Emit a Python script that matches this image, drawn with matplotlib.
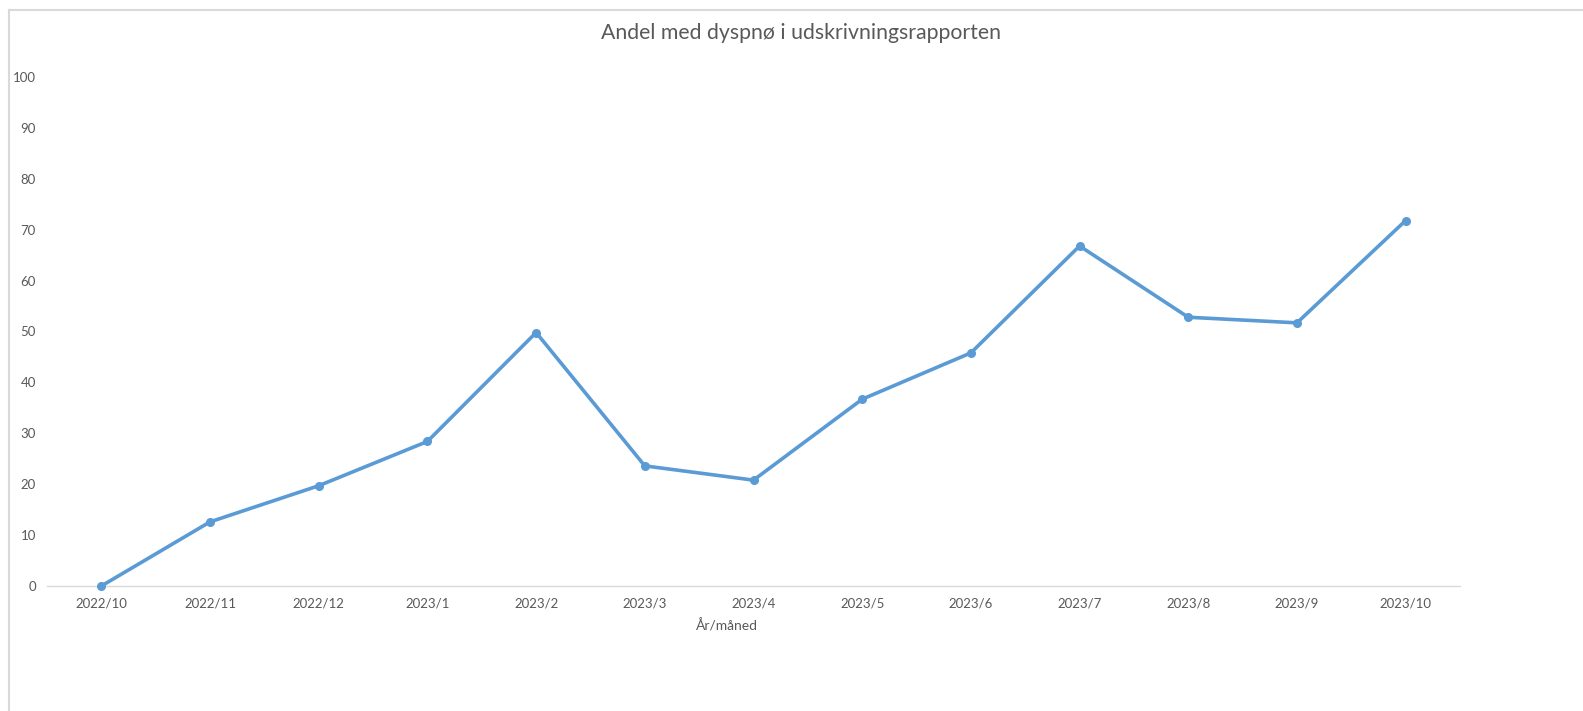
import matplotlib
matplotlib.use("Agg")
import matplotlib.pyplot as plt
from matplotlib.lines import Line2D

categories = ["2022/10", "2022/11", "2022/12", "2023/1", "2023/2", "2023/3", "2023/4",
              "2023/5", "2023/6", "2023/7", "2023/8", "2023/9", "2023/10"]
values = [0, 12.6, 19.7, 28.4, 49.8, 23.6, 20.8, 36.7, 45.8, 66.8, 52.8, 51.7, 71.8]
yticks = [0, 10, 20, 30, 40, 50, 60, 70, 80, 90, 100]

W, H = 1583, 711
plt.rcParams['font.family'] = ['Lato', 'DejaVu Sans']
fig = plt.figure(figsize=(W / 100, H / 100), dpi=100)

left, right = 47 / W, 1460 / W
bottom, top = 1 - 586 / H, 1 - 77 / H
ax = fig.add_axes([left, bottom, right - left, top - bottom])

x = list(range(len(categories)))
ax.plot(x, values, color="#5B9BD5", linewidth=2.6, marker="o", markersize=5.5,
        solid_capstyle="round", solid_joinstyle="round", clip_on=False, zorder=3)

ax.set_xlim(-0.5, len(categories) - 0.5)
ax.set_ylim(0, 100)
ax.set_xticks(x)
ax.set_xticklabels(categories)
ax.set_yticks(yticks)
ax.set_yticklabels([str(v) for v in yticks])
ax.tick_params(axis="both", length=0, labelsize=9.5, colors="#595959")
ax.tick_params(axis="x", pad=8)
ax.tick_params(axis="y", pad=8)
for s in ["top", "right", "left"]:
    ax.spines[s].set_visible(False)
ax.spines["bottom"].set_color("#D9D9D9")
ax.spines["bottom"].set_linewidth(1.0)
ax.spines["bottom"].set_zorder(1)

fig.text(727 / W, 1 - 626 / H, "År/måned", ha="center", va="center",
         fontsize=10, color="#595959")
fig.text(801 / W, 1 - 33 / H, "Andel med dyspnø i udskrivningsrapporten", ha="center",
         va="center", fontsize=15.3, color="#595959")

# outer chart border (left and top edges visible)
fig.add_artist(Line2D([8.5 / W, 8.5 / W], [0, 1 - 10 / H], transform=fig.transFigure,
                      color="#D9D9D9", linewidth=1.5))
fig.add_artist(Line2D([8.5 / W, 1], [1 - 10 / H, 1 - 10 / H], transform=fig.transFigure,
                      color="#D9D9D9", linewidth=1.5))

fig.savefig("out.png", dpi=100, facecolor="white")
